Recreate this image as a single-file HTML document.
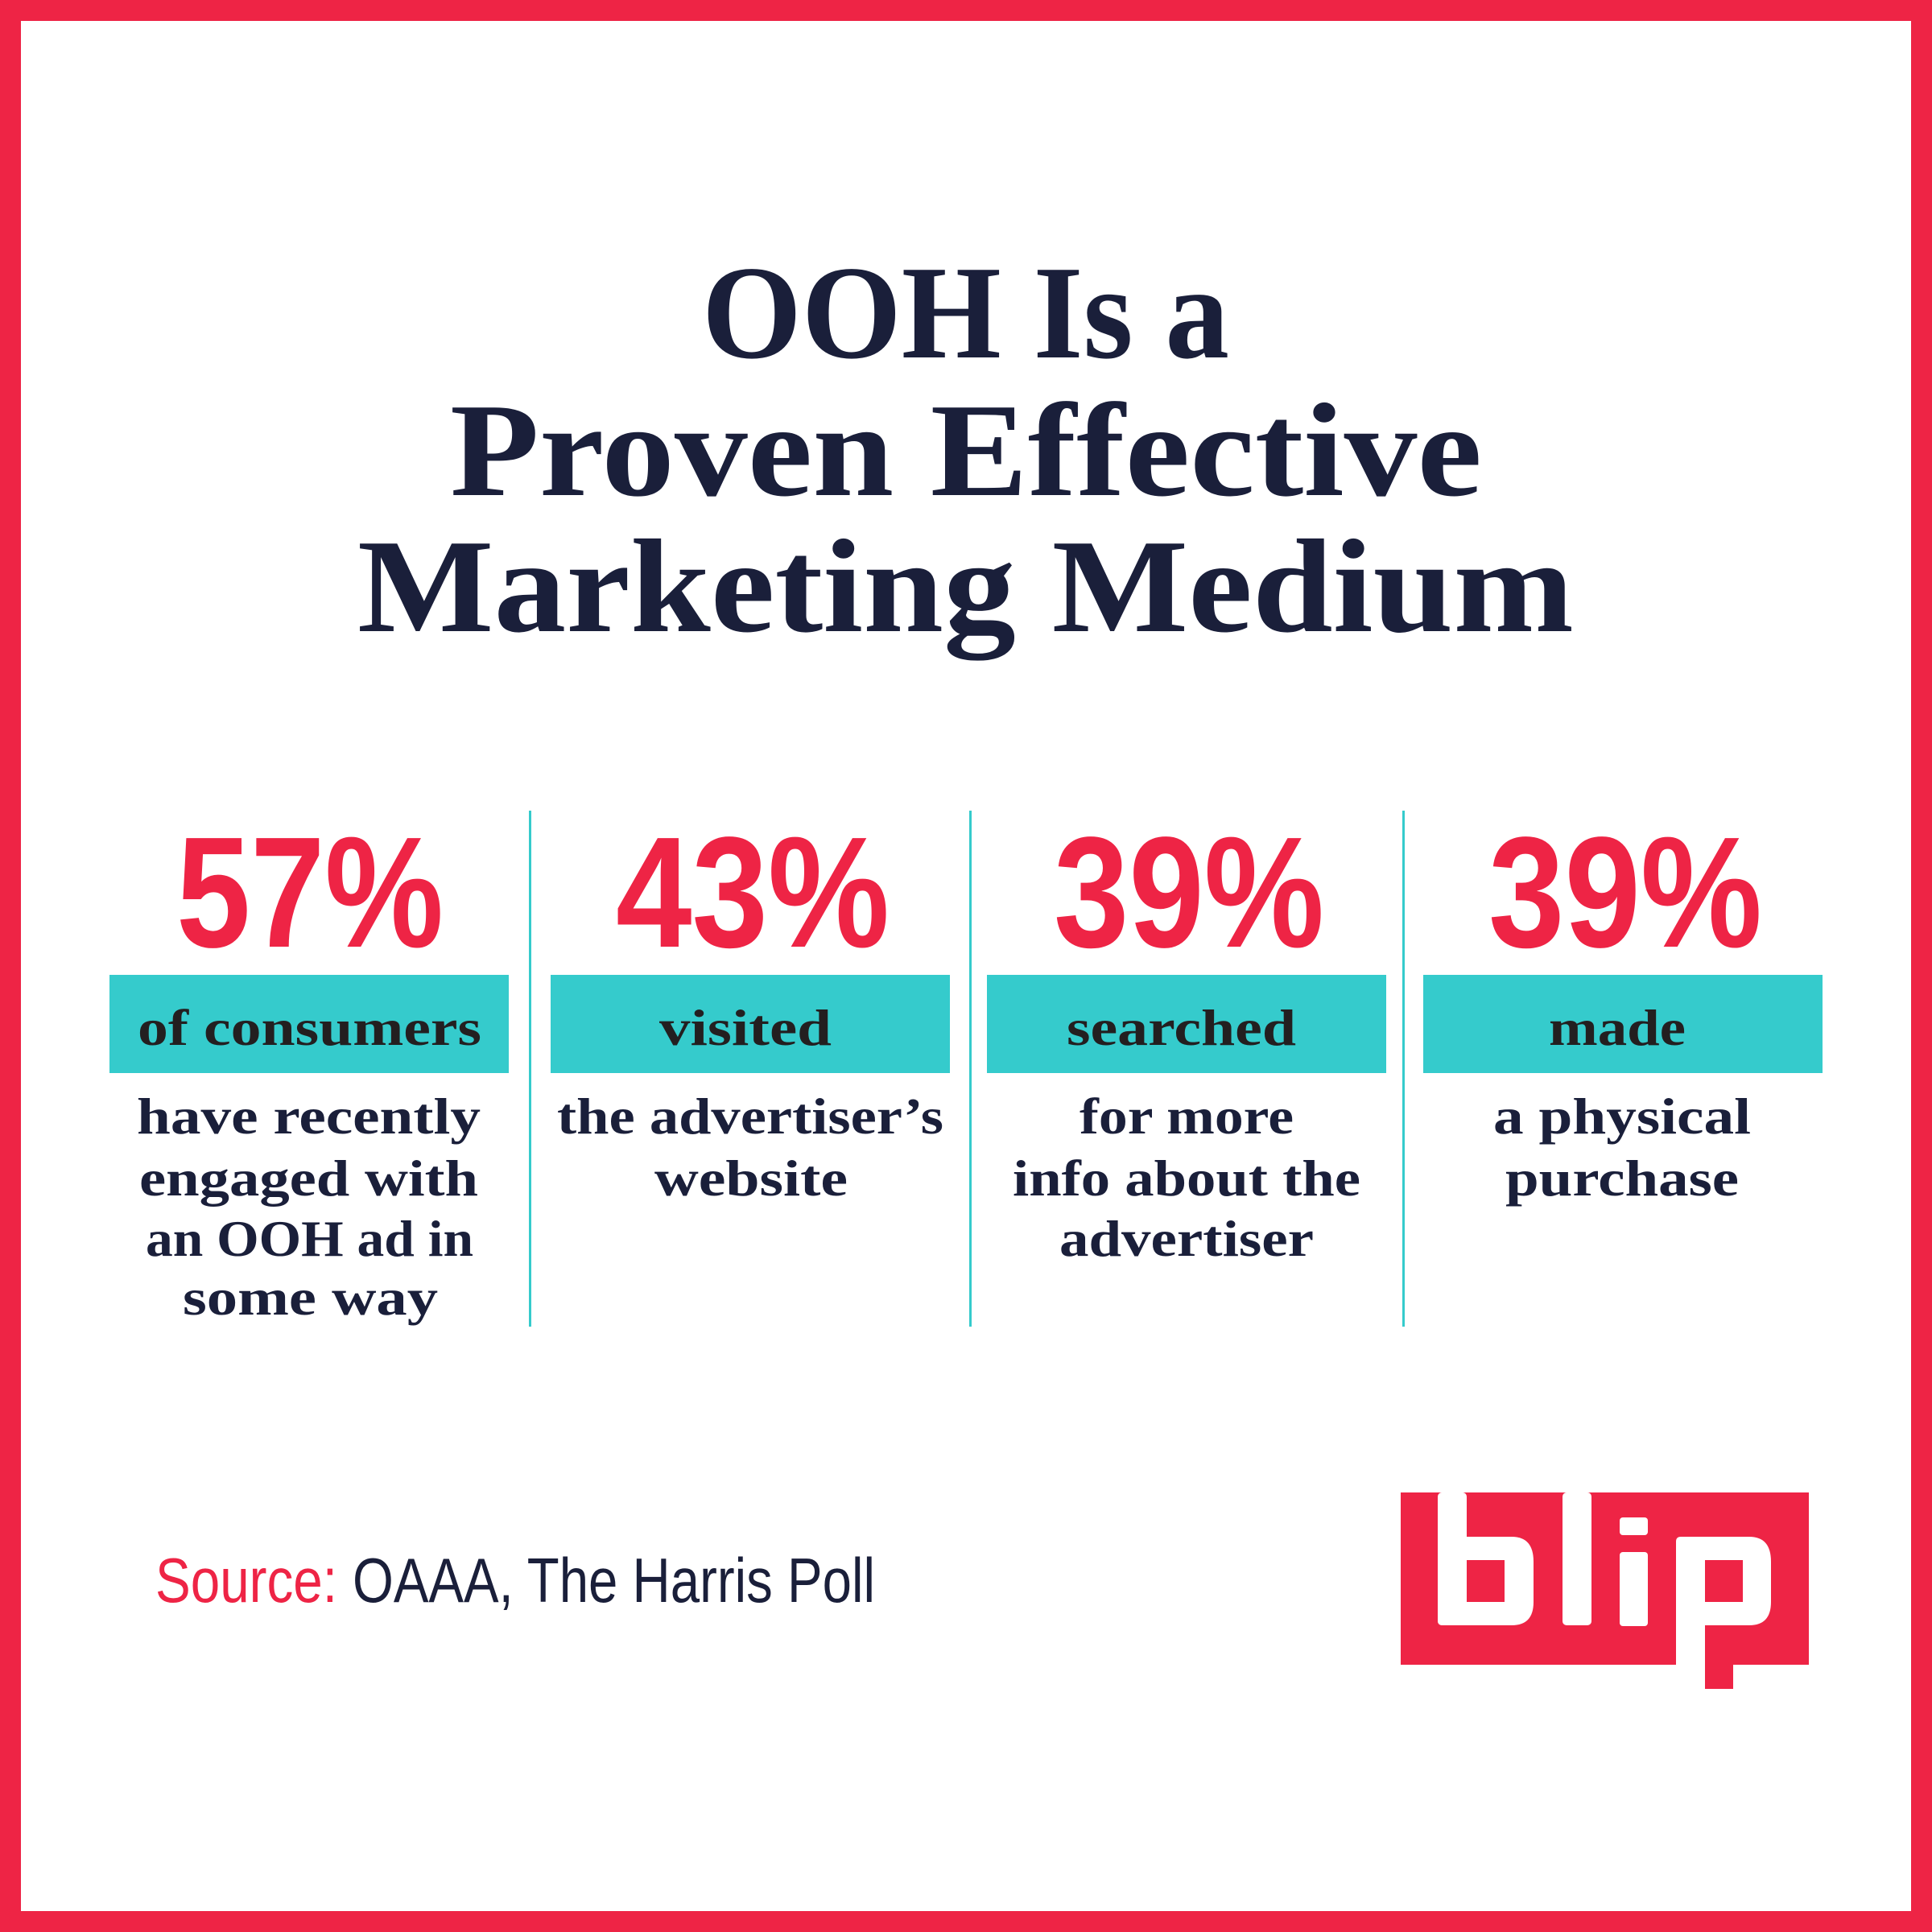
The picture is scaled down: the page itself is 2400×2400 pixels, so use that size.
<!DOCTYPE html>
<html><head><meta charset="utf-8"><style>
html,body{margin:0;padding:0;background:#fff}
svg{display:block}
</style></head><body>
<svg width="2400" height="2400" viewBox="0 0 2400 2400" xmlns="http://www.w3.org/2000/svg">
<rect x="0" y="0" width="2400" height="2400" fill="#EE2445"/>
<rect x="26" y="26" width="2348" height="2348" fill="#fff"/>

<g font-family="'Liberation Serif',serif" font-weight="bold" fill="#1A1F3A">
<text x="872" y="444" font-size="166" textLength="655" lengthAdjust="spacingAndGlyphs">OOH Is a</text>
<text x="559" y="615" font-size="166" textLength="1282" lengthAdjust="spacingAndGlyphs">Proven Effective</text>
<text x="444" y="784" font-size="166" textLength="1511" lengthAdjust="spacingAndGlyphs">Marketing Medium</text>
</g>

<g font-family="'Liberation Sans',sans-serif" font-weight="bold" fill="#EE2445" font-size="196">
<text x="219" y="1176" textLength="332" lengthAdjust="spacingAndGlyphs">57%</text>
<text x="765" y="1176" textLength="340" lengthAdjust="spacingAndGlyphs">43%</text>
<text x="1309" y="1176" textLength="336" lengthAdjust="spacingAndGlyphs">39%</text>
<text x="1849" y="1176" textLength="340" lengthAdjust="spacingAndGlyphs">39%</text>
</g>

<g fill="#35CBCC">
<rect x="136" y="1211" width="496" height="122"/>
<rect x="684" y="1211" width="496" height="122"/>
<rect x="1226" y="1211" width="496" height="122"/>
<rect x="1768" y="1211" width="496" height="122"/>
<rect x="657" y="1007" width="3" height="641"/>
<rect x="1204" y="1007" width="3" height="641"/>
<rect x="1742" y="1007" width="3" height="641"/>
</g>

<g font-family="'Liberation Serif',serif" font-weight="bold" fill="#231F20" font-size="64">
<text x="171" y="1298" textLength="427" lengthAdjust="spacingAndGlyphs">of consumers</text>
<text x="819" y="1298" textLength="214" lengthAdjust="spacingAndGlyphs">visited</text>
<text x="1325" y="1298" textLength="285" lengthAdjust="spacingAndGlyphs">searched</text>
<text x="1924" y="1298" textLength="170" lengthAdjust="spacingAndGlyphs">made</text>
</g>

<g font-family="'Liberation Serif',serif" font-weight="bold" fill="#1A1F3A" font-size="64">
<text x="170" y="1408" textLength="427" lengthAdjust="spacingAndGlyphs">have recently</text>
<text x="173" y="1485" textLength="421" lengthAdjust="spacingAndGlyphs">engaged with</text>
<text x="181" y="1560" textLength="407" lengthAdjust="spacingAndGlyphs">an OOH ad in</text>
<text x="227" y="1633" textLength="317" lengthAdjust="spacingAndGlyphs">some way</text>
<text x="692" y="1408" textLength="480" lengthAdjust="spacingAndGlyphs">the advertiser’s</text>
<text x="813" y="1485" textLength="240" lengthAdjust="spacingAndGlyphs">website</text>
<text x="1341" y="1408" textLength="266" lengthAdjust="spacingAndGlyphs">for more</text>
<text x="1258" y="1485" textLength="432" lengthAdjust="spacingAndGlyphs">info about the</text>
<text x="1316" y="1560" textLength="316" lengthAdjust="spacingAndGlyphs">advertiser</text>
<text x="1855" y="1408" textLength="320" lengthAdjust="spacingAndGlyphs">a physical</text>
<text x="1870" y="1485" textLength="290" lengthAdjust="spacingAndGlyphs">purchase</text>
</g>

<g font-family="'Liberation Sans',sans-serif" font-size="78">
<text x="193" y="1990" fill="#EE2445" textLength="226" lengthAdjust="spacingAndGlyphs">Source:</text>
<text x="438" y="1990" fill="#1A1F3A" textLength="649" lengthAdjust="spacingAndGlyphs">OAAA, The Harris Poll</text>
</g>

<!-- blip logo -->
<rect x="1740" y="1854" width="507" height="214" fill="#EE2445"/>
<rect x="2118" y="2060" width="35" height="38" fill="#EE2445"/>
<g fill="#fff">
<rect x="1786" y="1854" width="36" height="165" rx="5"/>
<path d="M1786 1909 H1878 Q1905 1909 1905 1940 V1990 Q1905 2019 1878 2019 H1792 Q1786 2019 1786 2013 Z"/>
<rect x="1941" y="1854" width="36" height="165" rx="5"/>
<rect x="2012" y="1885" width="35" height="22" rx="4"/>
<rect x="2012" y="1928" width="35" height="92" rx="4"/>
<path d="M2082 2068 V1915 Q2082 1909 2088 1909 H2173 Q2200 1909 2200 1940 V1990 Q2200 2019 2173 2019 H2118 V2068 Z"/>
</g>
<g fill="#EE2445">
<rect x="1822" y="1938" width="47" height="52"/>
<rect x="2118" y="1938" width="47" height="52"/>
</g>
</svg>
</body></html>
